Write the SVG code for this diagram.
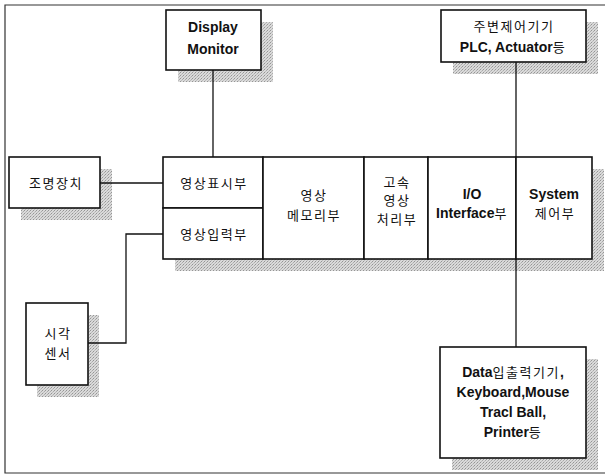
<svg xmlns="http://www.w3.org/2000/svg" width="605" height="475" viewBox="0 0 605 475">
<style>
.box{fill:#fff;stroke:#111;stroke-width:1.6}
.sh{fill:url(#dots);stroke:none}
.ln{fill:none;stroke:#111;stroke-width:1.3}
.frame{fill:none;stroke:#333;stroke-width:1.2}
text{font-family:"Liberation Sans","Noto Sans CJK KR",sans-serif;font-size:14px;fill:#111;text-anchor:middle}
.en{font-weight:bold}
.ko{font-family:"Noto Sans CJK KR","Liberation Sans",sans-serif;font-size:13px;font-weight:normal;letter-spacing:1.5px}
</style>
<defs>
<pattern id="dots" width="3" height="3" patternUnits="userSpaceOnUse">
<rect width="3" height="3" fill="#dadada"/>
<rect x="0" y="0" width="1" height="1" fill="#959595"/>
<rect x="2" y="1" width="1" height="1" fill="#ababab"/>
<rect x="1" y="2" width="1" height="1" fill="#bcbcbc"/>
</pattern>
</defs>
<rect width="605" height="475" fill="#fff"/>
<path class="frame" d="M605,5 H5 V473 H605"/>

<g id="shadows">
<rect class="sh" x="178" y="22" width="95" height="60"/>
<rect class="sh" x="453" y="22" width="145" height="52"/>
<rect class="sh" x="175" y="169" width="429" height="102"/>
<rect class="sh" x="21" y="169" width="91" height="51"/>
<rect class="sh" x="37" y="315" width="62" height="82"/>
<rect class="sh" x="452" y="359" width="146" height="111"/>
</g>

<g id="connectors">
<path class="ln" d="M213,70 V157"/>
<path class="ln" d="M516,62 V157"/>
<path class="ln" d="M516,259 V347"/>
<path class="ln" d="M100,183 H163"/>
<path class="ln" d="M163,234 H126 V343 H88"/>
</g>

<g id="display-monitor">
<rect class="box" x="166" y="10" width="95" height="60"/>
<text class="en" x="213" y="32">Display</text>
<text class="en" x="213" y="54">Monitor</text>
</g>

<g id="peripheral">
<rect class="box" x="441" y="10" width="145" height="52"/>
<text class="ko" x="514" y="31">주변제어기기</text>
<text x="513" y="52"><tspan class="en">PLC, Actuator</tspan><tspan class="ko">등</tspan></text>
</g>

<g id="lighting">
<rect class="box" x="9" y="157" width="91" height="51"/>
<text class="ko" x="56" y="188">조명장치</text>
</g>

<g id="vision-sensor">
<rect class="box" x="26" y="303" width="62" height="82"/>
<text class="ko" x="58" y="338">시각</text>
<text class="ko" x="58" y="358">센서</text>
</g>

<g id="image-display">
<rect class="box" x="163" y="157" width="100" height="51"/>
<text class="ko" x="214" y="188">영상표시부</text>
</g>

<g id="image-input">
<rect class="box" x="163" y="208" width="100" height="51"/>
<text class="ko" x="214" y="239">영상입력부</text>
</g>

<g id="image-memory">
<rect class="box" x="263" y="157" width="101" height="102"/>
<text class="ko" x="314" y="200">영상</text>
<text class="ko" x="314" y="220">메모리부</text>
</g>

<g id="fast-processing">
<rect class="box" x="364" y="157" width="64" height="102"/>
<text class="ko" x="397" y="187">고속</text>
<text class="ko" x="397" y="205">영상</text>
<text class="ko" x="397" y="224">처리부</text>
</g>

<g id="io-interface">
<rect class="box" x="428" y="157" width="88" height="102"/>
<text class="en" x="472" y="199">I/O</text>
<text x="472" y="218"><tspan class="en">Interface</tspan><tspan class="ko">부</tspan></text>
</g>

<g id="system-control">
<rect class="box" x="516" y="157" width="76" height="102"/>
<text class="en" x="554" y="199">System</text>
<text class="ko" x="555" y="218">제어부</text>
</g>

<g id="data-io">
<rect class="box" x="440" y="347" width="146" height="111"/>
<text x="513" y="377"><tspan class="en">Data</tspan><tspan class="ko">입출력기기</tspan><tspan class="en">,</tspan></text>
<text class="en" x="513" y="397">Keyboard,Mouse</text>
<text class="en" x="513" y="417">Tracl Ball,</text>
<text x="513" y="437"><tspan class="en">Printer</tspan><tspan class="ko">등</tspan></text>
</g>
</svg>
